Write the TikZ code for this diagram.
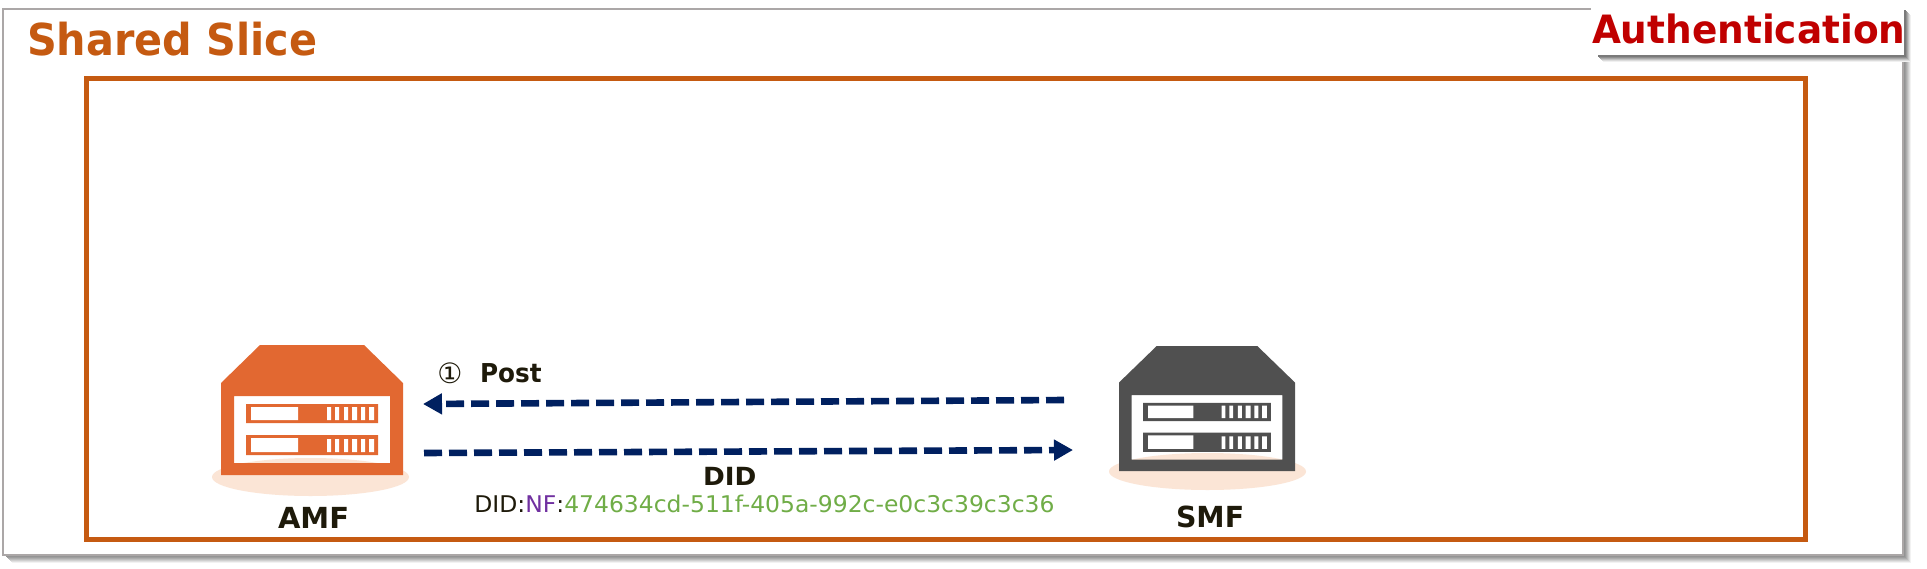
\documentclass[tikz,border=0pt]{standalone}
\usepackage{fontspec}
\setmainfont{DejaVu Sans}
\usetikzlibrary{arrows.meta}
\definecolor{sliceor}{HTML}{C55A11}
\definecolor{iconor}{HTML}{E26831}
\definecolor{icongr}{HTML}{505050}
\definecolor{halo}{HTML}{FBE5D6}
\definecolor{navy}{HTML}{002060}
\definecolor{authred}{HTML}{C00000}
\definecolor{inktext}{HTML}{1E1A0A}
\definecolor{nfpurple}{HTML}{7030A0}
\definecolor{idgreen}{HTML}{70AD47}
\definecolor{framegr}{HTML}{ABA7A7}
\tikzset{
  dashconn/.style={draw=navy,line width=3.3pt,dash pattern=on 9pt off 3.5pt,
    -{Triangle[length=9.5pt,width=10pt]}},
  lbl/.style={inner sep=0pt,outer sep=0pt,anchor=base west,text=inktext,font=\fontsize{#1}{#1}\selectfont\bfseries},
  lbl/.default=14,
}
\newcommand{\servericon}[2]{%
  \begin{scope}[#2]
    \fill[#1,even odd rule]
      (221,383) -- (260,345) -- (364,345) -- (403,383) -- (403,475) -- (221,475) -- cycle
      (234,396) rectangle (390,463);
    \fill[#1] (246,404) rectangle (378,423) (246,435) rectangle (378,455);
    \fill[white] (251,407) rectangle (298,420) (251,438) rectangle (298,452);
    \foreach \xa/\xb in {327/331,335/339,344/348,352/357,361/365,369/374}{
      \fill[white] (\xa,407) rectangle (\xb,420) (\xa,439) rectangle (\xb,452);
    }
  \end{scope}}
\begin{document}
\begin{tikzpicture}[x=0.5pt,y=-0.5pt]
  \useasboundingbox (0,0) rectangle (1927,568);
  \fill[white] (0,0) rectangle (1927,568);
  % outer frame with soft shadow
  \foreach \o/\g in {8/5,7/12,6/19,5/26,4/32,3/38,2/42}{
    \fill[black!\g] (6+\o-2,14+\o-2) rectangle (1903+\o,555+\o);
  }
  \fill[white,draw=framegr,line width=1pt] (3,9) rectangle (1903,555);
  % authentication tag
  \foreach \o/\g in {7/6,6/14,5/24,4/34,3/44,2/52}{
    \fill[black!\g] (1596+\o,8+\o) rectangle (1904+\o,55+\o);
  }
  \fill[white] (1591,2) rectangle (1904,55);
  \node[lbl,text=authred,font=\fontsize{19.5}{20}\selectfont\bfseries] (auth) at (1592,43) {\scalebox{0.96}[1]{Authentication}};
  \node[lbl,text=sliceor,font=\fontsize{22}{24}\selectfont\bfseries] (title) at (27,55) {\scalebox{0.94}[1]{Shared Slice}};
  \draw[sliceor,line width=2.5pt] (86.5,78.5) rectangle (1805.5,539.5);
  % halos
  \fill[halo] (310.5,477) ellipse [x radius=98.5,y radius=19];
  \fill[halo] (1207.5,471.5) ellipse [x radius=98.5,y radius=18.5];
  % server icons
  \servericon{iconor}{}
  \servericon{icongr}{shift={(1119,346)},xscale=0.967,yscale=0.962,shift={(-221,-345)}}
  % labels
  \node[lbl=14.5] (amf) at (278,528) {AMF};
  \node[lbl=14.5] (smf) at (1176,527) {\scalebox{0.98}[1]{SMF}};
  \node[inner sep=0pt,anchor=center,text=inktext,font=\fontsize{14}{14}\selectfont] (num) at (450,373) {①};
  \node[lbl=13] (post) at (480,382) {\scalebox{0.95}[1]{Post}};
  \node[lbl=12.5] (did) at (703,485) {\scalebox{1.05}[1]{DID}};
  \node[inner sep=0pt,anchor=base west,text=inktext] (didline) at (474,512)
    {\scalebox{1.02}[1]{\fontsize{11.5}{12}\selectfont DID:\textcolor{nfpurple}{NF}:\textcolor{idgreen}{474634cd-511f-405a-992c-e0c3c39c3c36}}};
  % connectors
  \coordinate (smfout) at (1064,400);
  \coordinate (amfin) at (423,404);
  \coordinate (amfout) at (424,453);
  \coordinate (smfin) at (1073,450);
  \draw[dashconn] (smfout) -- (amfin);
  \draw[dashconn] (amfout) -- (smfin);
\end{tikzpicture}
\end{document}
